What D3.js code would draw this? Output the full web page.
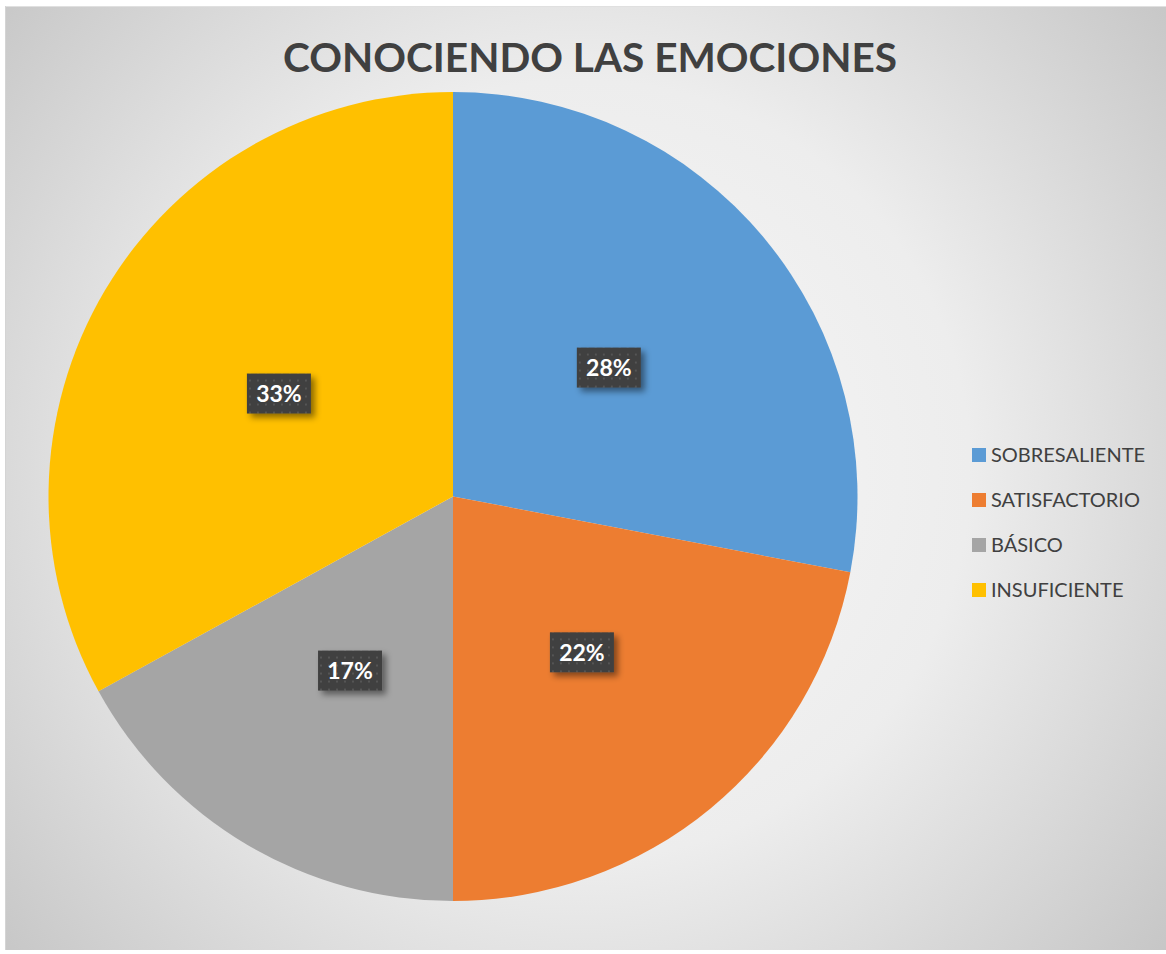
<!DOCTYPE html>
<html lang="en">
<head>
    <meta charset="UTF-8">
    <title>Conociendo las emociones</title>
    <script src="https://cdn.jsdelivr.net/npm/d3@7"></script>
    <style>
        body { margin: 0; background: #fff; }
        svg { display: block; }
    </style>
</head>
<body>
    <div id="chart-space"></div>

    <script>
        // data
        var categories = ["SOBRESALIENTE", "SATISFACTORIO", "BÁSICO", "INSUFICIENTE"];
        var values = [28, 22, 17, 33];
        var colors = ["#5b9bd5", "#ed7d31", "#a5a5a5", "#ffc000"];
        var title = "CONOCIENDO LAS EMOCIONES";

        var width = 1166;
        var height = 954;
        var frame = {x: 5, y: 6, w: 1161, h: 944};
        var cx = 453, cy = 496.5, radius = 404.5;
        var font = "Lato, 'Open Sans', sans-serif";

        var svg = d3.select("#chart-space")
            .append("svg")
            .attr("width", width)
            .attr("height", height);

        var defs = svg.append("defs");

        var grad = defs.append("radialGradient")
            .attr("id", "bg")
            .attr("gradientUnits", "userSpaceOnUse")
            .attr("cx", 580).attr("cy", 470).attr("r", 780);
        grad.append("stop").attr("offset", "0%").attr("stop-color", "#f8f8f8");
        grad.append("stop").attr("offset", "50%").attr("stop-color", "#ededed");
        grad.append("stop").attr("offset", "100%").attr("stop-color", "#c4c4c4");

        // dotted fill for the label boxes
        var pat = defs.append("pattern")
            .attr("id", "dots")
            .attr("patternUnits", "userSpaceOnUse")
            .attr("width", 8).attr("height", 8);
        pat.append("rect").attr("width", 8).attr("height", 8).attr("fill", "#3f3f3f");
        pat.append("rect").attr("x", 2).attr("y", 2).attr("width", 2).attr("height", 2).attr("fill", "#555");

        var shadow = defs.append("filter")
            .attr("id", "shadow")
            .attr("x", "-30%").attr("y", "-30%")
            .attr("width", "170%").attr("height", "170%");
        shadow.append("feDropShadow")
            .attr("dx", 4).attr("dy", 4)
            .attr("stdDeviation", 3)
            .attr("flood-color", "#000")
            .attr("flood-opacity", 0.45);

        // background + frame
        svg.append("rect")
            .attr("x", frame.x).attr("y", frame.y)
            .attr("width", frame.w).attr("height", frame.h)
            .attr("fill", "url(#bg)");
        svg.append("line")
            .attr("x1", frame.x).attr("x2", frame.x + frame.w)
            .attr("y1", frame.y + 0.5).attr("y2", frame.y + 0.5)
            .attr("stroke", "#e0e0e0");
        svg.append("line")
            .attr("x1", frame.x + 0.5).attr("x2", frame.x + 0.5)
            .attr("y1", frame.y).attr("y2", frame.y + frame.h)
            .attr("stroke", "#d4d4d4");

        // title
        var titleText = svg.append("text")
            .attr("x", 590)
            .attr("y", 72)
            .attr("text-anchor", "middle")
            .attr("font-family", font)
            .attr("font-weight", "bold")
            .attr("font-size", 42)
            .attr("fill", "#404040")
            .text(title);
        var tw = titleText.node().getComputedTextLength();
        titleText.attr("font-size", 42 * 614 / tw);

        // pie
        var pie = d3.pie().sort(null).value(function(d) { return d; });
        var arcs = pie(values);
        var arc = d3.arc().innerRadius(0).outerRadius(radius);
        var labelArc = d3.arc().innerRadius(radius * 0.5).outerRadius(radius * 0.5);

        var g = svg.append("g")
            .attr("transform", "translate(" + cx + "," + cy + ")");

        g.selectAll("path")
            .data(arcs)
            .join("path")
            .attr("d", arc)
            .attr("fill", function(d, i) { return colors[i]; });

        // data labels
        var labels = g.selectAll("g.label")
            .data(arcs)
            .join("g")
            .attr("class", "label")
            .attr("transform", function(d) {
                var c = labelArc.centroid(d);
                return "translate(" + c[0] + "," + c[1] + ")";
            });

        labels.append("rect")
            .attr("x", -32).attr("y", -20)
            .attr("width", 64).attr("height", 40)
            .attr("fill", "url(#dots)")
            .attr("filter", "url(#shadow)");

        labels.append("text")
            .attr("text-anchor", "middle")
            .attr("dy", "0.36em")
            .attr("font-family", font)
            .attr("font-weight", "bold")
            .attr("font-size", 23)
            .attr("fill", "#fff")
            .text(function(d) { return d.data + "%"; });

        // legend
        var legend = svg.append("g")
            .attr("transform", "translate(972,455)");

        var items = legend.selectAll("g")
            .data(categories)
            .join("g")
            .attr("transform", function(d, i) { return "translate(0," + (i * 45) + ")"; });

        items.append("rect")
            .attr("x", 0).attr("y", -7)
            .attr("width", 14).attr("height", 14)
            .attr("fill", function(d, i) { return colors[i]; });

        items.append("text")
            .attr("x", 19)
            .attr("dy", "0.36em")
            .attr("font-family", font)
            .attr("font-size", 20)
            .attr("fill", "#404040")
            .text(function(d) { return d; });
    </script>
</body>
</html>
